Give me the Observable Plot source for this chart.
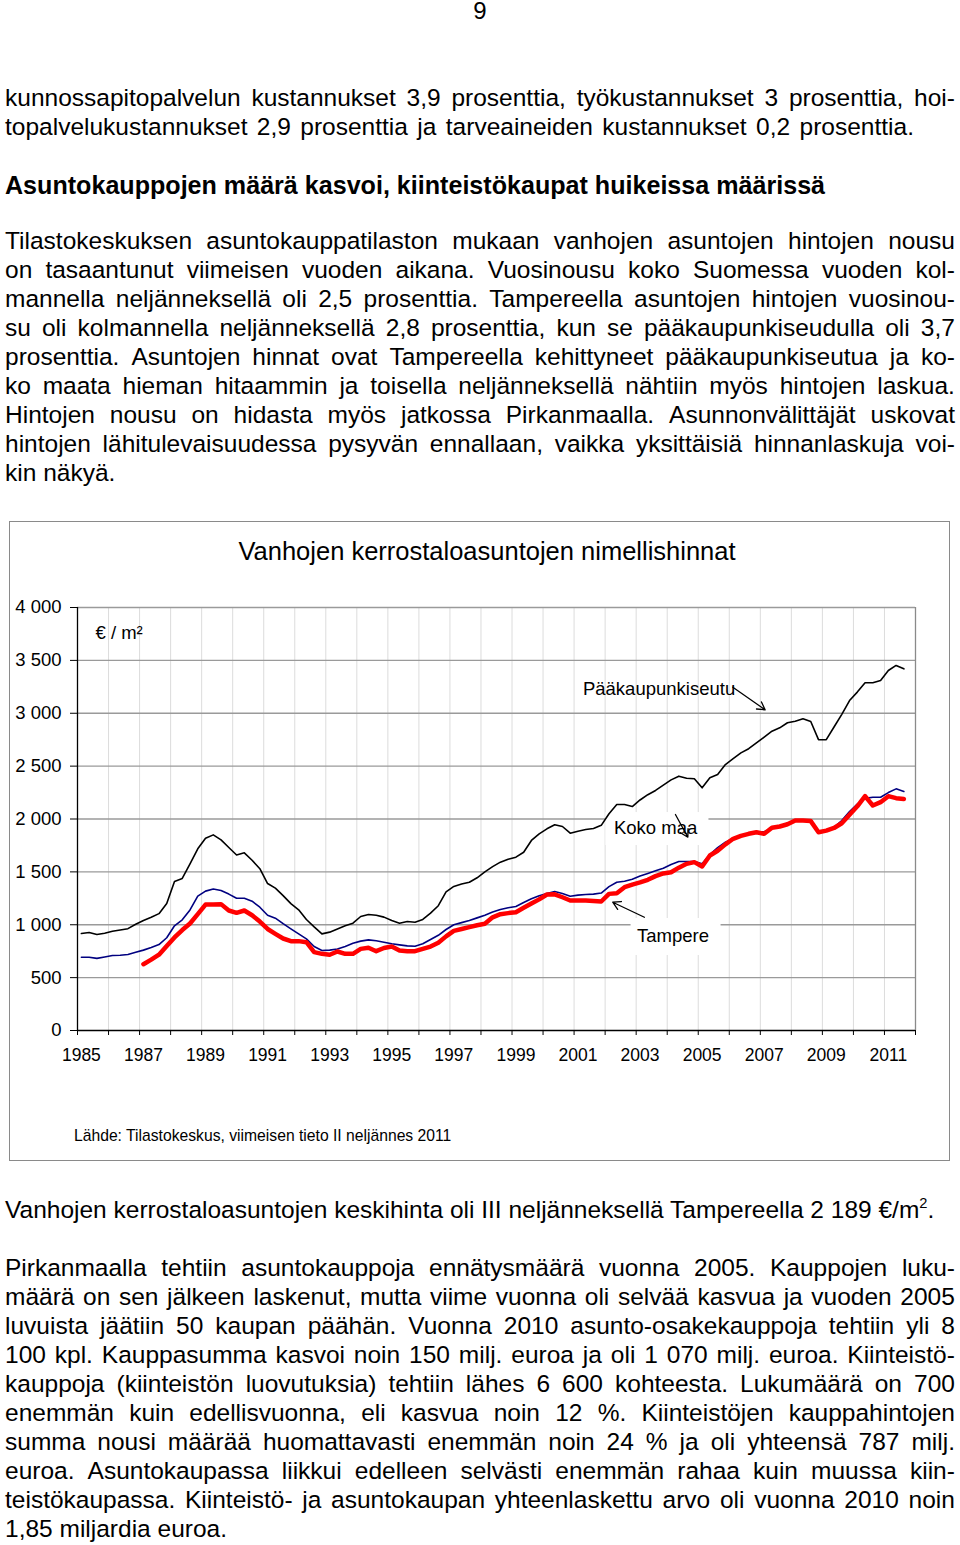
<!DOCTYPE html>
<html><head><meta charset="utf-8">
<script src="https://cdn.jsdelivr.net/npm/d3@7"></script>
<script src="https://cdn.jsdelivr.net/npm/@observablehq/plot@0.6"></script>
<style>
html,body{margin:0;padding:0;background:#fff;}
body{width:960px;height:1545px;position:relative;font-family:"Liberation Sans",Arial,sans-serif;color:#000;overflow:hidden}
.ln{position:absolute;left:5px;width:950px;font-size:24.5px;line-height:29px;white-space:nowrap}
.j{display:flex;justify-content:space-between}
.b{font-weight:bold;font-size:25.1px}
sup{font-size:60%;vertical-align:0;position:relative;top:-0.7em;line-height:0}
#pn{position:absolute;left:0;top:0;width:960px;text-align:center;font-size:24px;line-height:22px}
#box{position:absolute;left:9px;top:521px;width:939px;height:638px;border:1px solid #8a8a8a;background:#fff}
#title{position:absolute;left:0;top:14px;width:954px;text-align:center;font-size:25.5px;line-height:30px}
#chart{position:absolute;left:0;top:58px}
#caption{position:absolute;left:64px;top:604px;font-size:15.7px;line-height:20px}
</style></head>
<body>
<div id="pn"></div>
<div id="box">
  <div id="title">Vanhojen kerrostaloasuntojen nimellishinnat</div>
  <div id="chart"></div>
  <div id="caption">Lähde: Tilastokeskus, viimeisen tieto II neljännes 2011</div>
</div>
<script>
// ---------- data (quarterly, 1985Q1 .. 2011Q3) ----------
const firstYear = 1985;
const paakaupunkiseutu = [
  917, 927, 908, 920,   938, 950, 963, 1005,   1040, 1070, 1105, 1200,   1410, 1438, 1576, 1718,
  1818, 1850, 1803, 1730,   1660, 1680, 1610, 1530,   1390, 1346, 1275, 1200,   1141, 1050, 980, 914,
  930, 960, 990, 1015,   1078, 1097, 1090, 1072,   1040, 1015, 1031, 1024,   1050, 1110, 1180, 1310,
  1362, 1385, 1402, 1444,   1500, 1550, 1592, 1620,   1639, 1686, 1797, 1860,   1907, 1945, 1929, 1866,
  1885, 1900, 1910, 1940,   2050, 2137, 2137, 2118,   2180, 2230, 2270, 2320,   2370, 2405, 2385, 2380,
  2295, 2390, 2421, 2515,   2570, 2625, 2665, 2720,   2775, 2830, 2862, 2910,   2925, 2947, 2922, 2750,
  2750, 2870, 2990, 3120,   3200, 3288, 3288, 3310,   3404, 3452, 3420
];
const kokoMaa = [
  693, 693, 682, 695,   709, 712, 719, 740,   760, 785, 813, 877,   990, 1047, 1140, 1270,
  1318, 1338, 1324, 1290,   1250, 1251, 1223, 1166,   1090, 1062, 1010, 961,   914, 867, 794, 756,
  760, 770, 795, 825,   845, 857, 848, 835,   820, 810, 800, 797,   820, 860, 900, 955,
  1000, 1020, 1040, 1065,   1090, 1120, 1145, 1160,   1172, 1210, 1245, 1275,   1295, 1314, 1295, 1270,
  1280, 1286, 1290, 1300,   1360, 1402, 1412, 1430,   1460, 1485, 1510, 1535,   1570, 1598, 1598, 1598,
  1576, 1664, 1730, 1780,   1815, 1845, 1860, 1880,   1880, 1910, 1929, 1950,   1986, 1985, 1975, 1880,
  1885, 1920, 1985, 2070,   2140, 2195, 2206, 2206,   2250, 2285, 2260
];
const tampere = [
  null, null, null, null,   null, null, null, null,   627, 670, 717, 800,   880, 950, 1012, 1100,
  1191, 1191, 1195, 1135,   1113, 1135, 1090, 1030,   960, 914, 870, 845,   845, 835, 741, 725,
  716, 747, 725, 725,   772, 782, 750, 780,   794, 756, 750, 750,   772, 794, 830, 890,
  942, 960, 977, 995,   1009, 1070, 1100, 1110,   1119, 1160, 1200, 1240,   1286, 1288, 1260, 1229,
  1229, 1229, 1225, 1220,   1292, 1298, 1355, 1380,   1400, 1425, 1460, 1485,   1497, 1540, 1576, 1592,
  1551, 1655, 1700, 1760,   1813, 1840, 1860, 1875,   1860, 1917, 1929, 1950,   1986, 1985, 1980, 1875,
  1890, 1915, 1960, 2040,   2120, 2216, 2128, 2159,   2216, 2197, 2189
];
const yearLabels = d3.range(1985, 2012, 2);
const yTicks = d3.range(0, 4001, 500);

// annotation labels (data units)
const labels = [
  {t: 1985.455, v: 3754, text: "€ / m²"},
  {t: 2001.16, v: 3225, text: "Pääkaupunkiseutu"},
  {t: 2002.16, v: 1910, text: "Koko maa"},
  {t: 2002.90, v: 889, text: "Tampere"}
];
const labelBoxes = [
  {t1: 2001.90, t2: 2005.22, v1: 1749, v2: 2061},
  {t1: 2002.71, t2: 2005.61, v1: 709, v2: 1059}
];
const arrows = [
  {t1: 2005.99, v1: 3246, t2: 2007.03, v2: 3033},
  {t1: 2004.14, v1: 2043, t2: 2004.54, v2: 1828},
  {t1: 2003.14, v1: 1071, t2: 2002.12, v2: 1213}
];

// ---------- text of the page ----------
const pageNumber = "9";
const para1 = [
  "kunnossapitopalvelun kustannukset 3,9 prosenttia, työkustannukset 3 prosenttia, hoi-",
  "topalvelukustannukset 2,9 prosenttia ja tarveaineiden kustannukset 0,2 prosenttia."
];
const heading = "Asuntokauppojen määrä kasvoi, kiinteistökaupat huikeissa määrissä";
const para2 = [
  "Tilastokeskuksen asuntokauppatilaston mukaan vanhojen asuntojen hintojen nousu",
  "on tasaantunut viimeisen vuoden aikana. Vuosinousu koko Suomessa vuoden kol-",
  "mannella neljänneksellä oli 2,5 prosenttia. Tampereella asuntojen hintojen vuosinou-",
  "su oli kolmannella neljänneksellä 2,8 prosenttia, kun se pääkaupunkiseudulla oli 3,7",
  "prosenttia. Asuntojen hinnat ovat Tampereella kehittyneet pääkaupunkiseutua ja ko-",
  "ko maata hieman hitaammin ja toisella neljänneksellä nähtiin myös hintojen laskua.",
  "Hintojen nousu on hidasta myös jatkossa Pirkanmaalla. Asunnonvälittäjät uskovat",
  "hintojen lähitulevaisuudessa pysyvän ennallaan, vaikka yksittäisiä hinnanlaskuja voi-",
  "kin näkyä."
];
const para3 = "Vanhojen kerrostaloasuntojen keskihinta oli III neljänneksellä Tampereella 2 189 €/m<sup>2</sup>.";
const para4 = [
  "Pirkanmaalla tehtiin asuntokauppoja ennätysmäärä vuonna 2005. Kauppojen luku-",
  "määrä on sen jälkeen laskenut, mutta viime vuonna oli selvää kasvua ja vuoden 2005",
  "luvuista jäätiin 50 kaupan päähän. Vuonna 2010 asunto-osakekauppoja tehtiin yli 8",
  "100 kpl. Kauppasumma kasvoi noin 150 milj. euroa ja oli 1 070 milj. euroa. Kiinteistö-",
  "kauppoja (kiinteistön luovutuksia) tehtiin lähes 6 600 kohteesta. Lukumäärä on 700",
  "enemmän kuin edellisvuonna, eli kasvua noin 12 %. Kiinteistöjen kauppahintojen",
  "summa nousi määrää huomattavasti enemmän noin 24 % ja oli yhteensä 787 milj.",
  "euroa. Asuntokaupassa liikkui edelleen selvästi enemmän rahaa kuin muussa kiin-",
  "teistökaupassa. Kiinteistö- ja asuntokaupan yhteenlaskettu arvo oli vuonna 2010 noin",
  "1,85 miljardia euroa."
];

function addLine(text, yc, justify, bold, html) {
  const d = document.createElement("div");
  d.className = "ln" + (justify ? " j" : "") + (bold ? " b" : "");
  d.style.top = (yc - 15) + "px";
  if (justify) {
    text.split(" ").forEach(w => { const s = document.createElement("span"); s.textContent = w; d.appendChild(s); });
  } else if (html) {
    d.innerHTML = text;
  } else {
    d.textContent = text;
  }
  document.body.appendChild(d);
  return d;
}
function addPara(lines, y0) {
  return lines.map((l, i) => addLine(l, y0 + 29 * i, i < lines.length - 1, false));
}
document.getElementById("pn").textContent = pageNumber;
const p1 = addPara(para1, 98);
p1[1].style.wordSpacing = "2.6px";
addLine(heading, 186, false, true);
addPara(para2, 241);
addLine(para3, 1210, false, false, true);
addPara(para4, 1268);

// ---------- chart ----------
const toRows = arr => arr.map((v, i) => ({t: firstYear + i / 4, v})).filter(d => d.v != null);
const rowsP = toRows(paakaupunkiseutu);
const rowsK = toRows(kokoMaa);
const rowsT = toRows(tampere);
const x0 = 1984.875, x1 = 2011.875;
const yearBounds = d3.range(x0, x1 + 0.001, 1);
const fmtY = d => d >= 1000 ? d3.format(",")(d).replace(/,/g, " ") : String(d);

const chart = Plot.plot({
  width: 939,
  height: 490,
  marginTop: 27,
  marginBottom: 40,
  marginLeft: 67,
  marginRight: 34,
  style: {fontFamily: '"Liberation Sans", Arial, sans-serif', fontSize: "18.5px", color: "#000", background: "transparent", overflow: "visible"},
  x: {domain: [x0, x1]},
  y: {domain: [0, 4000]},
  marks: [
    Plot.gridX(yearBounds, {stroke: "#dcdcdc", strokeOpacity: 1, strokeWidth: 1}),
    Plot.gridY(yTicks.slice(1), {stroke: "#9a9a9a", strokeOpacity: 1, strokeWidth: 1.3}),
    Plot.ruleX([x1], {stroke: "#8a8a8a", strokeWidth: 1.3}),
    Plot.rect(labelBoxes, {x1: "t1", x2: "t2", y1: "v1", y2: "v2", fill: "white"}),
    Plot.line(rowsP, {x: "t", y: "v", stroke: "#000", strokeWidth: 1.6}),
    Plot.line(rowsK, {x: "t", y: "v", stroke: "#000080", strokeWidth: 1.6}),
    Plot.line(rowsT, {x: "t", y: "v", stroke: "#ff0000", strokeWidth: 4.5, strokeLinejoin: "round"}),
    Plot.ruleY([0], {stroke: "#000", strokeWidth: 1.3}),
    Plot.ruleX([x0], {stroke: "#000", strokeWidth: 1.3}),
    Plot.axisY({ticks: yTicks, tickSize: 7, tickPadding: 9, tickFormat: fmtY, label: null, fontSize: 18.5}),
    Plot.axisX({ticks: yearBounds, tickSize: 5, tickFormat: () => "", label: null}),
    Plot.axisX({ticks: yearLabels, tickSize: 0, tickPadding: 18, tickFormat: d => String(d), label: null, fontSize: 17.5}),
    Plot.text(labels, {x: "t", y: "v", text: "text", textAnchor: "start", fontSize: 18.5, fill: "#000"}),
    Plot.arrow(arrows, {x1: "t1", y1: "v1", x2: "t2", y2: "v2", stroke: "#000", strokeWidth: 1.3, headLength: 10})
  ]
});
document.getElementById("chart").appendChild(chart);
</script>
</body></html>
